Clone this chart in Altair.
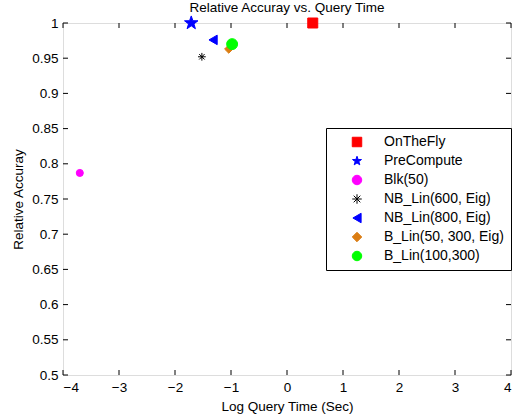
import math
import altair as alt
import pandas as pd

names = ["OnTheFly", "PreCompute", "Blk(50)", "NB_Lin(600, Eig)", "NB_Lin(800, Eig)",
         "B_Lin(50, 300, Eig)", "B_Lin(100,300)"]
log_time = [0.46, -1.71, -3.70, -1.52, -1.32, -1.04, -0.98]
accuracy = [1.0, 1.0, 0.787, 0.952, 0.976, 0.963, 0.970]
colors = ["#FF0000", "#0000FF", "#FF00FF", "#000000", "#0000FF", "#DB7D13", "#00FF00"]
sizes = [100, 200, 50, 60, 90, 70, 120]

x_ticks = [-4, -3, -2, -1, 0, 1, 2, 3, 4]
y_ticks = [0.5, 0.55, 0.6, 0.65, 0.7, 0.75, 0.8, 0.85, 0.9, 0.95, 1.0]

# symbol shapes
pts = []
for i in range(10):
    r = 1.0 if i % 2 == 0 else 0.4
    a = -math.pi / 2 + i * math.pi / 5
    pts.append(f"{r*math.cos(a):.3f},{r*math.sin(a):.3f}")
star = "M" + "L".join(pts) + "Z"
asterisk = "M-1,0L1,0M0,-1L0,1M-0.7,-0.7L0.7,0.7M-0.7,0.7L0.7,-0.7"
shapes = ["square", star, "circle", asterisk, "triangle-left", "diamond", "circle"]

df = pd.DataFrame({"name": names, "t": log_time, "acc": accuracy, "size": sizes})
xt = pd.DataFrame({"t": x_ticks})
yt = pd.DataFrame({"acc": y_ticks})

W, H = 448, 352
FONT = "Liberation Sans"
FS = 13.5

xscale = alt.Scale(domain=[-4, 4], nice=False)
yscale = alt.Scale(domain=[0.5, 1.0], nice=False)
cscale = alt.Scale(domain=names, range=colors)
sscale = alt.Scale(domain=names, range=shapes)

xaxis = alt.Axis(values=x_ticks, title="Log Query Time (Sec)", ticks=False,
                 domain=False, grid=False, labelPadding=5, titlePadding=6,
                 format="d", labelOverlap=False,
                 labelFont=FONT, labelFontSize=FS, titleFont=FONT,
                 titleFontSize=FS, titleFontWeight="normal",
                 labelColor="black", titleColor="black")
yaxis = alt.Axis(values=y_ticks, title="Relative Accuray", ticks=False,
                 domain=False, grid=False, labelPadding=5, titlePadding=6,
                 format="~g", labelOverlap=False,
                 labelFont=FONT, labelFontSize=FS, titleFont=FONT,
                 titleFontSize=FS, titleFontWeight="normal",
                 labelColor="black", titleColor="black")

legend = alt.Legend(title=None, orient="none", legendX=263, legendY=105,
                    strokeColor="black", fillColor="white", padding=7,
                    labelFont=FONT, labelFontSize=14, labelColor="black",
                    symbolSize=90, symbolOffset=17, labelOffset=20,
                    rowPadding=5, symbolStrokeWidth=1)

points = alt.Chart(df).mark_point(filled=True, opacity=1, strokeWidth=1).encode(
    x=alt.X("t:Q", scale=xscale, axis=xaxis),
    y=alt.Y("acc:Q", scale=yscale, axis=yaxis),
    fill=alt.Fill("name:N", scale=cscale, sort=names, legend=legend),
    stroke=alt.Stroke("name:N", scale=cscale, sort=names, legend=legend),
    shape=alt.Shape("name:N", scale=sscale, sort=names, legend=legend),
    size=alt.Size("size:Q", scale=None),
)

tl = 5
xb = alt.Chart(xt).mark_rule(color="black", strokeWidth=1).encode(
    x=alt.X("t:Q", scale=xscale, axis=xaxis), y=alt.value(H), y2=alt.value(H - tl))
xtp = alt.Chart(xt).mark_rule(color="black", strokeWidth=1).encode(
    x=alt.X("t:Q", scale=xscale, axis=xaxis), y=alt.value(0), y2=alt.value(tl))
yl = alt.Chart(yt).mark_rule(color="black", strokeWidth=1).encode(
    y=alt.Y("acc:Q", scale=yscale, axis=yaxis), x=alt.value(0), x2=alt.value(tl))
yr = alt.Chart(yt).mark_rule(color="black", strokeWidth=1).encode(
    y=alt.Y("acc:Q", scale=yscale, axis=yaxis), x=alt.value(W), x2=alt.value(W - tl))

chart = alt.layer(points, xb, xtp, yl, yr).properties(
    width=W, height=H,
    title=alt.Title("Relative Accuray vs. Query Time", font=FONT, fontSize=FS,
                    fontWeight="normal", color="black", offset=-1),
    autosize=alt.AutoSizeParams(type="none"),
    padding={"left": 63, "top": 23, "right": 4, "bottom": 44},
).configure_view(stroke="black", strokeWidth=1.5).configure(background="white")

chart.save("out.html", embed_options={"renderer": "svg", "actions": False})
